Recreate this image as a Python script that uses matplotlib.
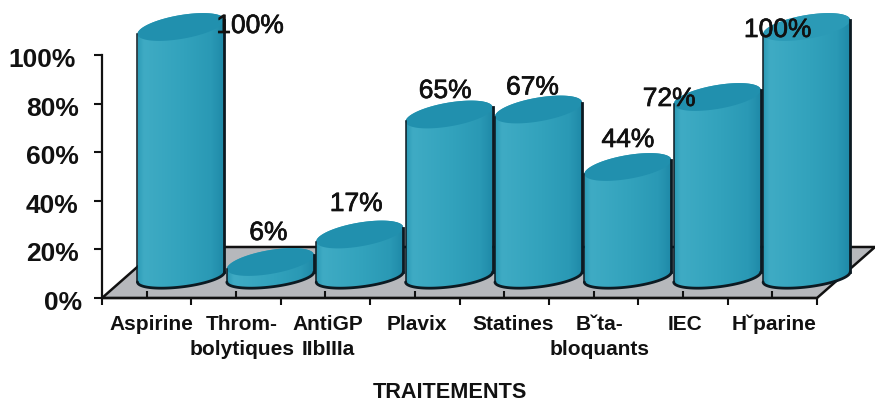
import numpy as np
import matplotlib
matplotlib.use("Agg")
import matplotlib.pyplot as plt
import matplotlib.patheffects as pe
from matplotlib.colors import LinearSegmentedColormap
from matplotlib.patches import Polygon
from matplotlib.transforms import ScaledTranslation

categories = ["Aspirine", "Throm-\nbolytiques", "AntiGP\nIIbIIIa", "Plavix", "Statines",
              "Bˇta-\nbloquants", "IEC", "Hˇparine"]
values = [100, 6, 17, 65, 67, 44, 72, 100]
y_ticks = [0, 20, 40, 60, 80, 100]
y_tick_labels = ["0%", "20%", "40%", "60%", "80%", "100%"]
x_title = "TRAITEMENTS"

plt.rcParams["font.family"] = ["Liberation Sans", "DejaVu Sans"]
W, H, DPI = 875, 403, 100
fig = plt.figure(figsize=(W / DPI, H / DPI), dpi=DPI, facecolor="white")

# axes frame: 0% / 100% and category span in figure pixels
L, R, B, T = 102, 817, 298, 55
ax = fig.add_axes([L / W, 1 - B / H, (R - L) / W, (B - T) / H])
ax.set_facecolor("none")
XS = (R - L) / len(values)   # px per category
YS = (B - T) / 100           # px per percent
px_x = lambda d: d / XS
px_y = lambda d: d / YS

# pseudo-3D projection
FLOOR_DX, FLOOR_DY = px_x(58), px_y(51)
CYL_DX = px_x(34.3)
CYL_A = px_x(43.5)
TOP_B, TOP_S = px_y(12), px_y(7)
BASE_B, BASE_S = px_y(10), px_y(5)
BASE_Y = px_y(21)
K = 2.5 / YS

# floor
n = len(values)
floor = Polygon([(0, 0), (n, 0), (n + FLOOR_DX, FLOOR_DY), (FLOOR_DX, FLOOR_DY)], closed=True,
                facecolor="#b6b8bc", edgecolor="#111111", lw=1.8, clip_on=False, zorder=1)
ax.add_patch(floor)

cmap = LinearSegmentedColormap.from_list("cyl", [
    (0.00, "#2a9ab5"), (0.08, "#3fabc4"), (0.50, "#33a3bd"),
    (0.85, "#2a99b5"), (1.00, "#1f8aa8")])
grad = np.linspace(0, 1, 256).reshape(1, -1)


def ell(cx, cy, t, b, s):
    return cx + CYL_A * np.cos(t), cy + b * np.sin(t) + s * np.cos(t)


label_offsets = [(69, -1), (-2, -29), (-3.5, -30.5), (-4, -23.5),
                 (-6, -22), (0, -27), (-48, 2), (-29, 3)]
upper = np.linspace(np.pi, 0, 80)
lower = np.linspace(0, -np.pi, 80)
full = np.linspace(0, 2 * np.pi, 160)

for i, v in enumerate(values):
    cx = i + 0.5 + CYL_DX
    ctop = BASE_Y + v * K
    z = 3 + i * 0.1
    xu, yu = ell(cx, ctop, upper, TOP_B, TOP_S)
    xl, yl = ell(cx, BASE_Y, lower, BASE_B, BASE_S)
    body = Polygon(np.c_[np.r_[xu, xl], np.r_[yu, yl]], closed=True, transform=ax.transData,
                   facecolor="none", edgecolor="none")
    ax.add_patch(body)
    body.set_clip_on(False)
    im = ax.imshow(grad, extent=[cx - CYL_A, cx + CYL_A, 0, ctop + TOP_B * 2], aspect="auto",
                   cmap=cmap, zorder=z, interpolation="bilinear")
    im.set_clip_box(fig.bbox)
    im.set_clip_path(body)
    xe, ye = ell(cx, ctop, full, TOP_B, TOP_S)
    ax.fill(xe, ye, color="#2190ae" if i < n - 1 else "#2b9ab6", lw=0, clip_on=False, zorder=z + 0.01)
    ax.plot(xl, yl, color="#0c1a22", lw=2.0, clip_on=False, zorder=z + 0.02, solid_capstyle="round")
    ax.plot([xu[0], xl[-1]], [yu[0], yl[-1]], color="#0c1a22", lw=1.1, clip_on=False, zorder=z + 0.02)
    ax.plot([xu[-1], xl[0]], [yu[-1], yl[0]], color="#0c1a22", lw=2.0, clip_on=False, zorder=z + 0.02)
    dx, dy = label_offsets[i]
    ax.annotate(f"{v}%", xy=(cx, ctop), xytext=(dx * 72 / DPI, -dy * 72 / DPI),
                textcoords="offset points", ha="center", va="center", fontsize=19,
                color="#111111", zorder=10, annotation_clip=False,
                path_effects=[pe.withStroke(linewidth=0.5, foreground="#111111")])

ax.set_xlim(0, n)
ax.set_ylim(0, 100)
for s in ("top", "right"):
    ax.spines[s].set_visible(False)
for s in ("left", "bottom"):
    ax.spines[s].set_linewidth(1.6)
    ax.spines[s].set_color("#111111")
    ax.spines[s].set_zorder(2)

ax.set_yticks(y_ticks, y_tick_labels, fontsize=19, fontweight="bold", color="#111111")
ax.tick_params(axis="y", length=5.8, width=1.5, pad=11, color="#111111")
y_shift = [3, 0, 0, 0, 0, -3]
for lab, sh in zip(ax.get_yticklabels(), y_shift):
    lab.set_transform(lab.get_transform() + ScaledTranslation(sh / DPI, -2.5 / DPI, fig.dpi_scale_trans))

ax.set_xticks(np.arange(n + 1), [""] * (n + 1))
ax.tick_params(axis="x", which="major", length=5, width=1.5, color="#111111")
ax.set_xticks(np.arange(n) + 0.5, categories, minor=True, fontsize=15, fontweight="bold",
              color="#111111", linespacing=1.44)
ax.tick_params(axis="x", which="minor", direction="in", length=5, width=1.5, pad=12, color="#111111")

label_shift = [5, 6, 2.5, 2, 9, 6, 2, 2]
for lab, sh in zip(ax.get_xticklabels(minor=True), label_shift):
    lab.set_transform(lab.get_transform() + ScaledTranslation(sh / DPI, 0, fig.dpi_scale_trans))

ax.set_xlabel(x_title, fontsize=15.6, fontweight="bold", color="#111111")
ax.xaxis.set_label_coords((450 - L) / (R - L), (B - 393) / (B - T))
ax.xaxis.label.set_verticalalignment("center")

fig.savefig("out.png", dpi=DPI, facecolor="white")
